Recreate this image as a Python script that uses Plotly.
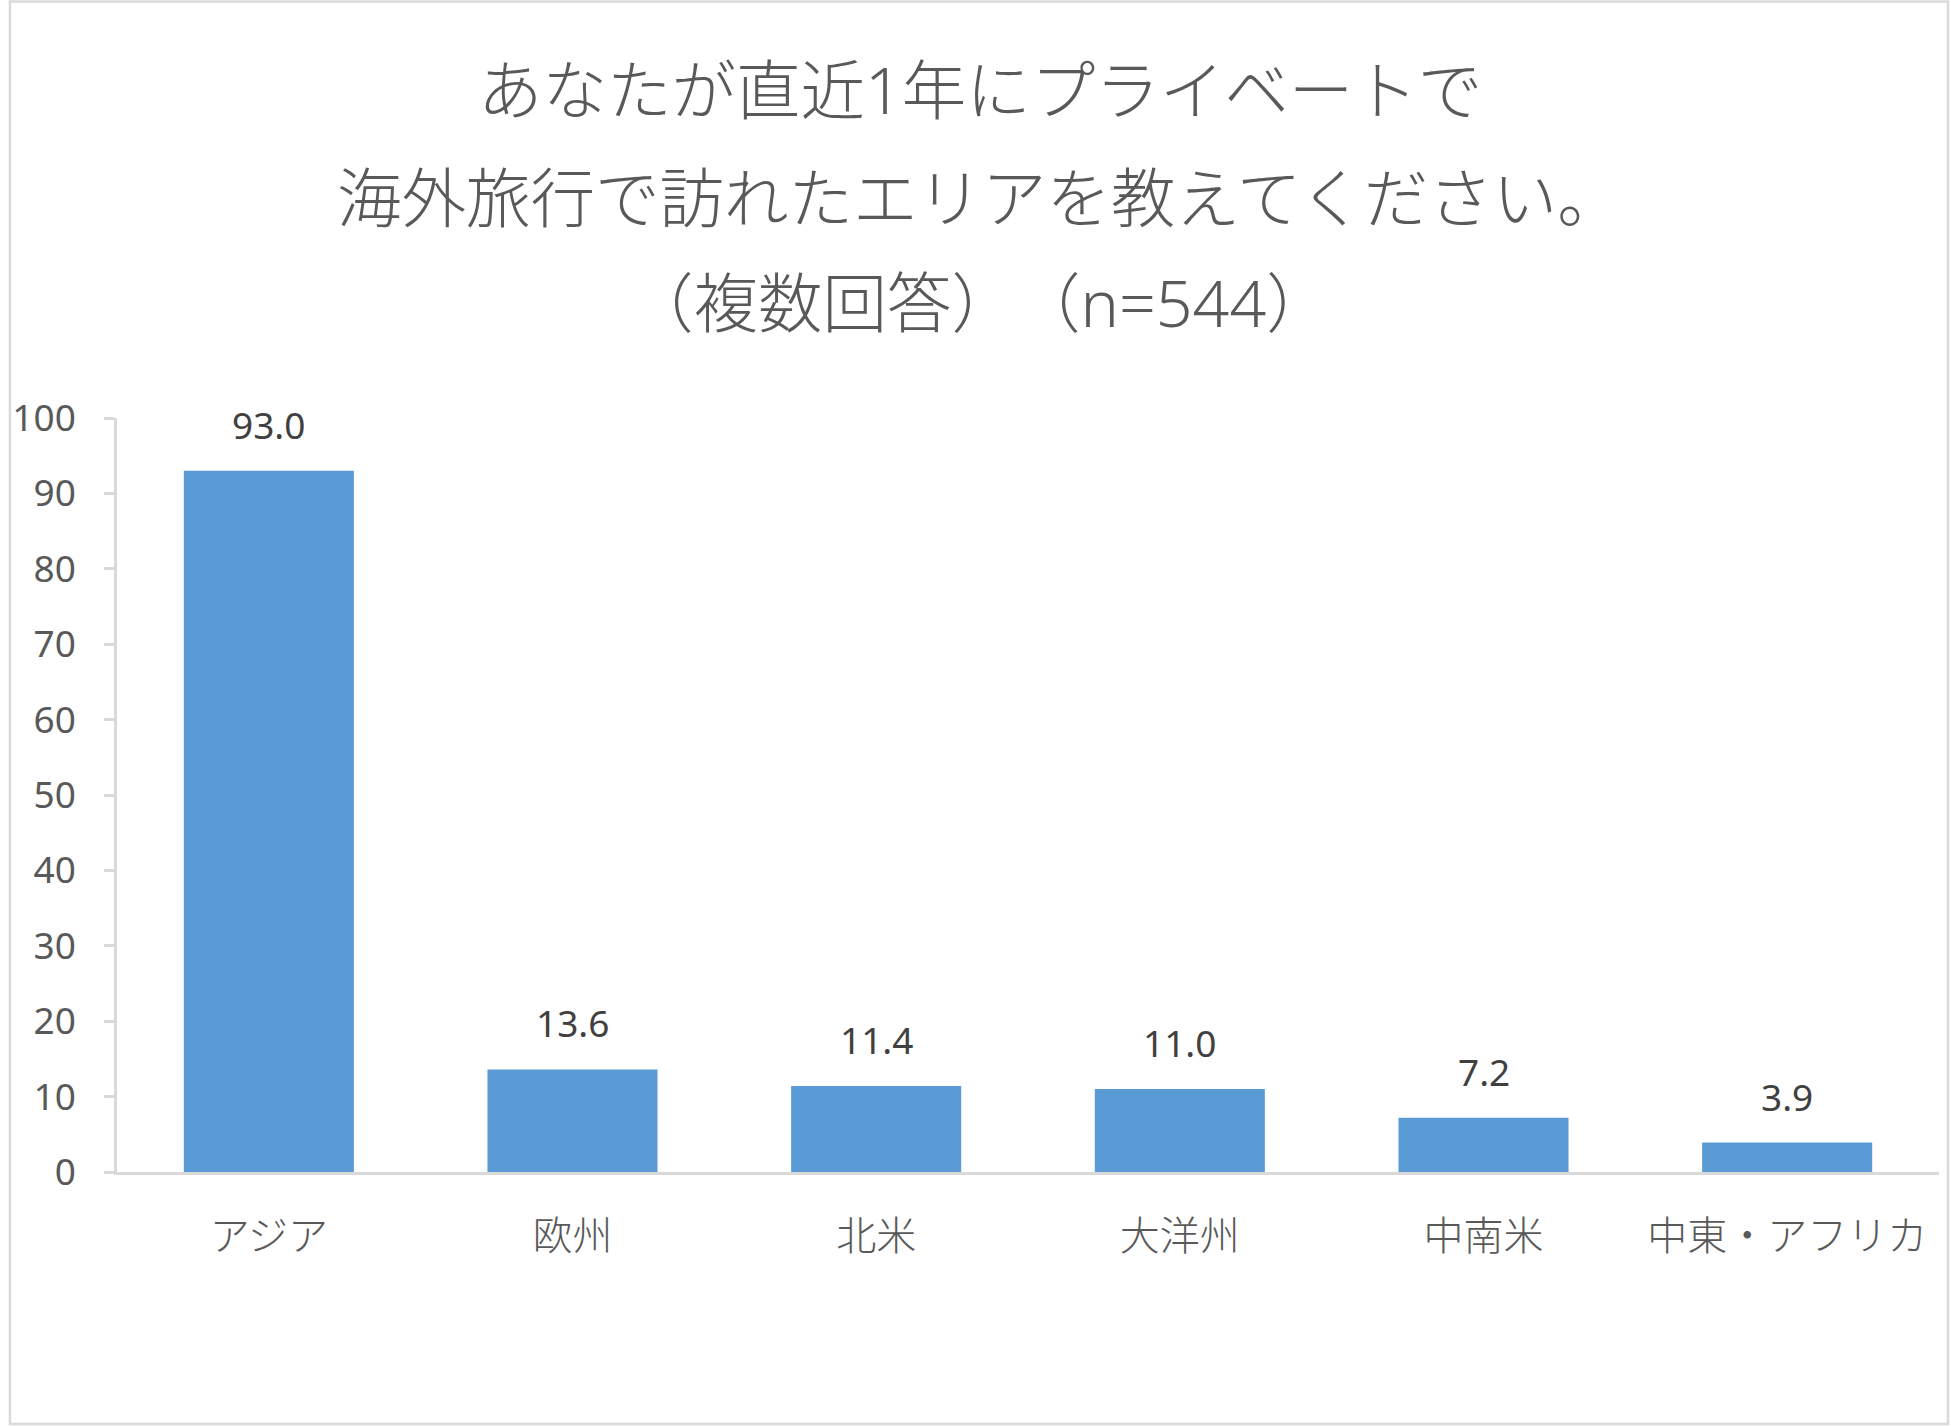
import plotly.graph_objects as go

categories = ["アジア", "欧州", "北米", "大洋州", "中南米", "中東・アフリカ"]
values = [93.0, 13.6, 11.4, 11.0, 7.2, 3.9]
y_ticks = [0, 10, 20, 30, 40, 50, 60, 70, 80, 90, 100]
title_lines = [
    "あなたが直近1年にプライベートで",
    "海外旅行で訪れたエリアを教えてください。",
    "（複数回答）　（n=544）",
]

W, H = 1951, 1426
L, R, T, B = 109, 12, 418, 254
plot_w = W - L - R
plot_h = H - T - B

FONT = "Noto Sans, Noto Sans CJK JP, sans-serif"
GRAY = "#d9d9d9"

fig = go.Figure()
fig.add_trace(go.Bar(
    x=categories, y=values,
    marker=dict(color="#5B9BD5", line=dict(width=0)),
    hoverinfo="skip",
))

annotations = []
for c, v in zip(categories, values):
    annotations.append(dict(
        x=c, y=v, xref="x", yref="y", text=f"{v:.1f}", showarrow=False,
        yanchor="bottom", yshift=19,
        font=dict(family=FONT, size=37, color="#404040"),
    ))

title_px = [89, 197, 302]
for txt, py in zip(title_lines, title_px):
    annotations.append(dict(
        x=(W / 2 - L) / plot_w, y=(H - B - py) / plot_h,
        xref="paper", yref="paper", text=txt, showarrow=False,
        xanchor="center", yanchor="middle",
        font=dict(family=FONT, size=64.5, color="#595959", weight=300),
    ))

fig.update_layout(
    width=W, height=H, autosize=False,
    margin=dict(l=L, r=R, t=T, b=B, pad=0),
    paper_bgcolor="white", plot_bgcolor="white",
    bargap=0.44,
    showlegend=False,
    annotations=annotations,
    shapes=[dict(
        type="rect", xref="paper", yref="paper",
        x0=(1.5 - L) / plot_w, x1=(W - 3 - L) / plot_w,
        y0=(H - B - (H - 2)) / plot_h, y1=(H - B - 1.5) / plot_h,
        line=dict(color=GRAY, width=2.5), fillcolor="rgba(0,0,0,0)", layer="below",
    )],
    xaxis=dict(
        showline=True, linecolor=GRAY, linewidth=3, ticks="",
        showgrid=False, zeroline=False,
        tickfont=dict(family=FONT, size=40, color="#595959", weight=300),
        ticklabelstandoff=27,
    ),
    yaxis=dict(
        range=[0, 100], tickvals=y_ticks,
        showline=True, linecolor=GRAY, linewidth=2.5,
        ticks="outside", ticklen=10, tickwidth=2.5, tickcolor=GRAY,
        showgrid=False, zeroline=False,
        tickfont=dict(family=FONT, size=37, color="#595959"),
        ticklabelstandoff=21,
    ),
)

fig.write_html(
    "out.html",
    config={"displayModeBar": False},
    post_script=(
        "document.documentElement.style.margin='0';"
        "document.body.style.margin='0';document.body.style.padding='0';"
        "document.body.style.overflow='hidden';"
        "var gd=document.getElementById('{plot_id}');"
        "gd.style.position='fixed';gd.style.left='0px';gd.style.top='0px';"
    ),
)
